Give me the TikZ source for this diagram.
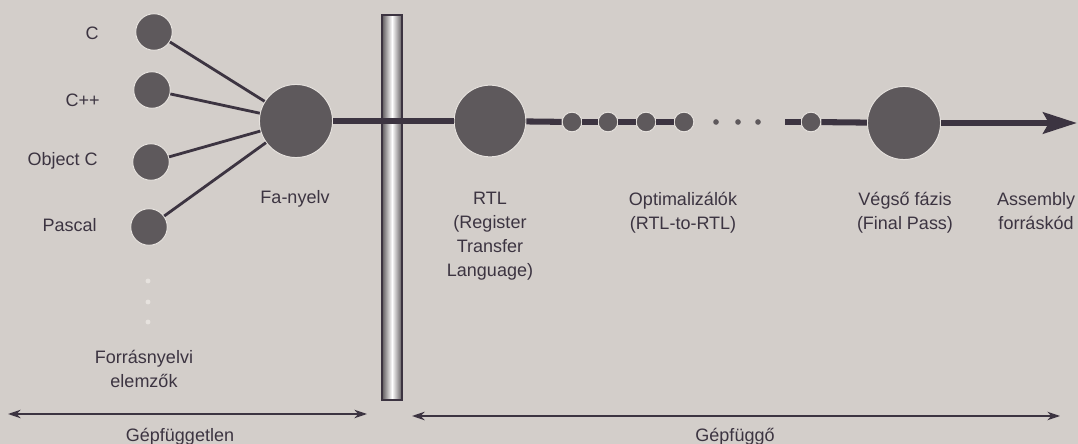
\documentclass[tikz,border=0pt]{standalone}
\usepackage{fontspec}
\setmainfont{Liberation Sans}
\usetikzlibrary{arrows.meta}

\definecolor{paper}{HTML}{D3CECA}
\definecolor{ink}{HTML}{3C3441}
\definecolor{blob}{HTML}{5E595C}
\definecolor{rim}{HTML}{E6E2DE}

\tikzset{
  stage/.style={circle, fill=blob, draw=rim, line width=0.7pt, inner sep=0pt, minimum size=#1},
  stage/.default=26pt,
  pt/.style={circle, fill=#1, inner sep=0pt, minimum size=4pt},
  pt/.default=blob,
  lbl/.style={text=ink, inner sep=0pt, align=center, font=\fontsize{12.8}{17}\selectfont},
  feed/.style={draw=ink, line width=2pt},
  pipe/.style={draw=ink, line width=4.3pt},
  span/.style={draw=ink, line width=1.1pt, {Stealth[length=9pt,width=6pt]}-{Stealth[length=9pt,width=6pt]}}
}

\begin{document}
\begin{tikzpicture}[x=0.025cm, y=-0.025cm]
  \fill[paper] (0,0) rectangle (1078,444);
  \useasboundingbox (0,0) rectangle (1078,444);

  % source languages
  \node[stage] (c) at (154,32) {};
  \node[stage] (cpp) at (152,90) {};
  \node[stage] (objc) at (151,162) {};
  \node[stage] (pascal) at (149,227) {};
  \node[lbl, anchor=east] (cL) at (99,33) {C};
  \node[lbl, anchor=east] (cppL) at (100,100) {C++};
  \node[lbl, anchor=east] (objcL) at (98,161) {Object C};
  \node[lbl, anchor=east] (pascalL) at (97,225) {Pascal};
  \node[pt=rim, minimum size=3.5pt] (v1) at (148,281) {};
  \node[pt=rim, minimum size=3.5pt] (v2) at (148,302) {};
  \node[pt=rim, minimum size=3.5pt] (v3) at (148,322) {};
  \node[lbl, anchor=north] (parsers) at (144,350) {Forrásnyelvi\\elemzők};

  % tree language
  \node[stage=52pt] (tree) at (296,121) {};
  \node[lbl] (treeL) at (295,199) {Fa-nyelv};
  \draw[feed] (c) -- (tree);
  \draw[feed] (cpp) -- (tree);
  \draw[feed] (objc) -- (tree);
  \draw[feed] (pascal) -- (tree);

  % machine boundary
  \shade[left color=blob, right color=blob, middle color=white] (382,15) rectangle (402,400);
  \draw[ink, line width=1.3pt] (382,15) rectangle (402,400);

  % machine dependent part
  \node[stage=51pt] (rtl) at (490,121) {};
  \node[stage=14pt] (o1) at (572,122) {};
  \node[stage=14pt] (o2) at (608,122) {};
  \node[stage=14pt] (o3) at (646,122) {};
  \node[stage=14pt] (o4) at (684,122) {};
  \node[pt, minimum size=4pt] (d1) at (716,122) {};
  \node[pt, minimum size=4pt] (d2) at (738,122) {};
  \node[pt, minimum size=4pt] (d3) at (758,122) {};
  \coordinate (stub) at (785,122);
  \node[stage=14pt] (o5) at (811,122) {};
  \node[stage=52pt] (final) at (904,123) {};
  \coordinate (asm) at (1077,123);

  \draw[pipe] (tree) -- (rtl);
  \draw[pipe] (rtl) -- (o1);
  \draw[pipe] (o1) -- (o2);
  \draw[pipe] (o2) -- (o3);
  \draw[pipe] (o3) -- (o4);
  \draw[pipe] (stub) -- (o5);
  \draw[pipe] (o5) -- (final);
  \draw[pipe, -{Stealth[length=24pt,width=15pt,inset=4pt]}] (final) -- (asm);

  \node[lbl, anchor=north] (rtlL) at (490,192) {RTL\\(Register\\Transfer\\Language)};
  \node[lbl, anchor=north] (optL) at (683,192) {Optimalizálók\\(RTL-to-RTL)};
  \node[lbl, anchor=north] (finalL) at (905,192) {Végső fázis\\(Final Pass)};
  \node[lbl, anchor=north] (asmL) at (1036,192) {Assembly\\forráskód};

  % ranges
  \coordinate (indA) at (8,414);
  \coordinate (indB) at (367,414);
  \coordinate (depA) at (412,416);
  \coordinate (depB) at (1060,416);
  \draw[span] (indA) -- (indB);
  \draw[span] (depA) -- (depB);
  \node[lbl, anchor=north] (indL) at (180,428) {Gépfüggetlen};
  \node[lbl, anchor=north] (depL) at (735,428) {Gépfüggő};
\end{tikzpicture}
\end{document}
